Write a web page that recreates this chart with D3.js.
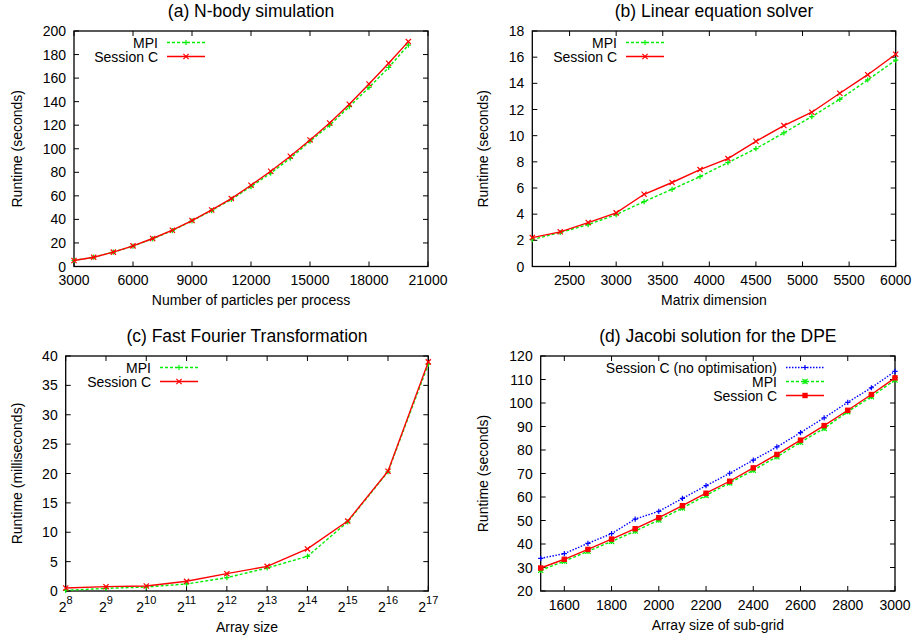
<!DOCTYPE html>
<html><head><meta charset="utf-8">
<script src="https://cdn.jsdelivr.net/npm/d3@7"></script>
<style>
html,body{margin:0;padding:0;background:#fff;}
svg text{font-family:"Liberation Sans",Arial,Helvetica,sans-serif;fill:#000;}
</style></head>
<body><svg id="c" width="914" height="641"></svg>
<script>
// ---- Data ----
// (a) N-body simulation
const nbodyX = [3000,4000,5000,6000,7000,8000,9000,10000,11000,12000,13000,14000,15000,16000,17000,18000,19000,20000];
const nbodyMPI = [5.1,7.9,12.2,17.3,23.5,30.5,38.8,47.5,57.0,67.9,79.2,92.0,106.4,120.0,135.8,152.0,169.0,188.0];
const nbodySession = [5.1,7.9,12.2,17.5,23.8,30.8,39.0,48.0,57.7,69.0,80.9,93.6,107.5,121.9,137.8,155.0,172.6,191.0];
const nbodyXTicks = [3000,6000,9000,12000,15000,18000,21000];
const nbodyYTicks = [0,20,40,60,80,100,120,140,160,180,200];

// (b) Linear equation solver
const linX = [2100,2400,2700,3000,3300,3600,3900,4200,4500,4800,5100,5400,5700,6000];
const linMPI = [2.06,2.6,3.2,3.97,4.96,5.9,6.87,7.94,9.01,10.21,11.46,12.78,14.26,15.78];
const linSession = [2.21,2.65,3.36,4.1,5.52,6.42,7.41,8.25,9.57,10.77,11.79,13.24,14.66,16.22];
const linXTicks = [2500,3000,3500,4000,4500,5000,5500,6000];
const linYTicks = [0,2,4,6,8,10,12,14,16,18];

// (c) Fast Fourier Transformation (x = log2 of array size)
const fftExp = [8,9,10,11,12,13,14,15,16,17];
const fftMPI = [0.11,0.45,0.68,1.2,2.27,3.92,5.9,11.76,20.3,38.6];
const fftSession = [0.51,0.74,0.85,1.65,2.95,4.2,7.16,11.9,20.4,39.0];
const fftXTicks = [8,9,10,11,12,13,14,15,16,17];
const fftYTicks = [0,5,10,15,20,25,30,35,40];

// (d) Jacobi solution for the DPE
const jacX = [1500,1600,1700,1800,1900,2000,2100,2200,2300,2400,2500,2600,2700,2800,2900,3000];
const jacNoOpt = [33.9,35.9,40.3,44.4,50.6,53.9,59.4,64.8,70.1,75.7,81.3,87.4,93.7,100.3,106.5,113.5];
const jacMPI = [28.8,32.7,36.9,41.1,45.5,50.2,55.3,60.7,66.0,71.4,77.1,83.3,89.2,96.3,102.7,109.8];
const jacSession = [29.8,33.5,37.7,42.1,46.5,51.2,56.3,61.6,66.7,72.4,78.1,84.2,90.4,96.9,103.6,110.7];
const jacXTicks = [1600,1800,2000,2200,2400,2600,2800,3000];
const jacYTicks = [20,30,40,50,60,70,80,90,100,110,120];

// ---- Styles ----
const GREEN = "#00ee00", RED = "#ff0000", BLUE = "#0000ff";
const styles = {
  mpi:   {color: GREEN, dash: "3,2", marker: "plus"},
  sess:  {color: RED, dash: null, marker: "cross"},
  mpiD:  {color: GREEN, dash: "3,2", marker: "star"},
  sessD: {color: RED, dash: null, marker: "square"},
  noopt: {color: BLUE, dash: "1.5,1.5", marker: "plus"}
};

const svg = d3.select("#c");

function marker(g, x, y, type, color) {
  const s = 2.6;
  if (type === "plus" || type === "star") {
    g.append("path").attr("d", `M${x-s},${y}H${x+s}M${x},${y-s}V${y+s}`).attr("stroke", color).attr("stroke-width", 1.2).attr("fill","none");
  }
  if (type === "cross" || type === "star") {
    g.append("path").attr("d", `M${x-s},${y-s}L${x+s},${y+s}M${x-s},${y+s}L${x+s},${y-s}`).attr("stroke", color).attr("stroke-width", 1.2).attr("fill","none");
  }
  if (type === "square") {
    g.append("rect").attr("x", x-2.7).attr("y", y-2.7).attr("width", 5.4).attr("height", 5.4).attr("fill", color);
  }
}

function panel(cfg) {
  const g = svg.append("g");
  const x = d3.scaleLinear().domain(cfg.xDomain).range([cfg.x0, cfg.x1]);
  const y = d3.scaleLinear().domain(cfg.yDomain).range([cfg.y1, cfg.y0]);
  const tl = 5;
  // frame
  g.append("rect").attr("x", cfg.x0).attr("y", cfg.y0).attr("width", cfg.x1-cfg.x0).attr("height", cfg.y1-cfg.y0)
    .attr("fill","none").attr("stroke","#000").attr("stroke-width",1.3);
  // y ticks (mirrored, inward)
  cfg.yTicks.forEach(v => {
    const yy = y(v);
    g.append("path").attr("d", `M${cfg.x0},${yy}h${tl}M${cfg.x1},${yy}h${-tl}`).attr("stroke","#000").attr("stroke-width",1);
    g.append("text").attr("x", cfg.x0-8).attr("y", yy+5).attr("text-anchor","end").attr("font-size",14).text(v);
  });
  cfg.xTicks.forEach(v => {
    const xx = x(v);
    g.append("path").attr("d", `M${xx},${cfg.y1}v${-tl}M${xx},${cfg.y0}v${tl}`).attr("stroke","#000").attr("stroke-width",1);
    const t = g.append("text").attr("x", xx).attr("y", cfg.y1+cfg.xLabDy).attr("text-anchor","middle").attr("font-size",14);
    if (cfg.pow2) {
      t.append("tspan").text("2");
      t.append("tspan").attr("dy",-8).attr("font-size",11).text(v);
    } else t.text(v);
  });
  // titles
  g.append("text").attr("x",(cfg.x0+cfg.x1)/2).attr("y",cfg.y0-14.5).attr("text-anchor","middle").attr("font-size",17.5).text(cfg.title);
  g.append("text").attr("x",(cfg.x0+cfg.x1)/2).attr("y",cfg.y1+cfg.xTitleDy).attr("text-anchor","middle").attr("font-size",14).text(cfg.xTitle);
  g.append("text").attr("transform",`translate(${cfg.yTitleX},${(cfg.y0+cfg.y1)/2}) rotate(-90)`).attr("text-anchor","middle").attr("font-size",14).text(cfg.yTitle);
  // series
  const line = d3.line().x(d => x(d[0])).y(d => y(d[1]));
  cfg.series.forEach((s, i) => {
    const st = styles[s.style];
    const pts = s.xs.map((xv, j) => [xv, s.ys[j]]);
    g.append("path").attr("d", line(pts)).attr("fill","none").attr("stroke", st.color).attr("stroke-width",1.4)
      .attr("stroke-dasharray", st.dash);
    pts.forEach(p => marker(g, x(p[0]), y(p[1]), st.marker, st.color));
  });
  // legend
  cfg.legend.forEach((s, i) => {
    const st = styles[s.style];
    const ly = cfg.y0 + 11.5 + i*14;
    g.append("text").attr("x", cfg.legX).attr("y", ly+5).attr("text-anchor","end").attr("font-size",14).text(s.name);
    g.append("path").attr("d", `M${cfg.legX+9},${ly}H${cfg.legX+47}`).attr("stroke", st.color).attr("stroke-width",1.4).attr("stroke-dasharray", st.dash);
    marker(g, cfg.legX+28, ly, st.marker, st.color);
  });
}

panel({
  x0:74, x1:428, y0:31, y1:266.5, xDomain:[3000,21000], yDomain:[0,200],
  xTicks: nbodyXTicks, yTicks: nbodyYTicks, xLabDy:18.5, xTitleDy:38.5, yTitleX:22,
  title:"(a) N-body simulation", xTitle:"Number of particles per process", yTitle:"Runtime (seconds)",
  series:[{xs:nbodyX, ys:nbodyMPI, style:"mpi"},{xs:nbodyX, ys:nbodySession, style:"sess"}],
  legend:[{name:"MPI", style:"mpi"},{name:"Session C", style:"sess"}], legX:158
});
panel({
  x0:532.3, x1:895.7, y0:31, y1:266.5, xDomain:[2100,6000], yDomain:[0,18],
  xTicks: linXTicks, yTicks: linYTicks, xLabDy:18.5, xTitleDy:38.5, yTitleX:488,
  title:"(b) Linear equation solver", xTitle:"Matrix dimension", yTitle:"Runtime (seconds)",
  series:[{xs:linX, ys:linMPI, style:"mpi"},{xs:linX, ys:linSession, style:"sess"}],
  legend:[{name:"MPI", style:"mpi"},{name:"Session C", style:"sess"}], legX:617
});
panel({
  x0:65.7, x1:428.3, y0:356, y1:591, xDomain:[8,17], yDomain:[0,40], pow2:true,
  xTicks: fftXTicks, yTicks: fftYTicks, xLabDy:21, xTitleDy:41, yTitleX:22,
  title:"(c) Fast Fourier Transformation", xTitle:"Array size", yTitle:"Runtime (milliseconds)",
  series:[{xs:fftExp, ys:fftMPI, style:"mpi"},{xs:fftExp, ys:fftSession, style:"sess"}],
  legend:[{name:"MPI", style:"mpi"},{name:"Session C", style:"sess"}], legX:151
});
panel({
  x0:540.7, x1:895, y0:356, y1:591, xDomain:[1500,3000], yDomain:[20,120],
  xTicks: jacXTicks, yTicks: jacYTicks, xLabDy:19, xTitleDy:39, yTitleX:488,
  title:"(d) Jacobi solution for the DPE", xTitle:"Array size of sub-grid", yTitle:"Runtime (seconds)",
  series:[{xs:jacX, ys:jacNoOpt, style:"noopt"},{xs:jacX, ys:jacMPI, style:"mpiD"},{xs:jacX, ys:jacSession, style:"sessD"}],
  legend:[{name:"Session C (no optimisation)", style:"noopt"},{name:"MPI", style:"mpiD"},{name:"Session C", style:"sessD"}], legX:777
});
</script></body></html>
